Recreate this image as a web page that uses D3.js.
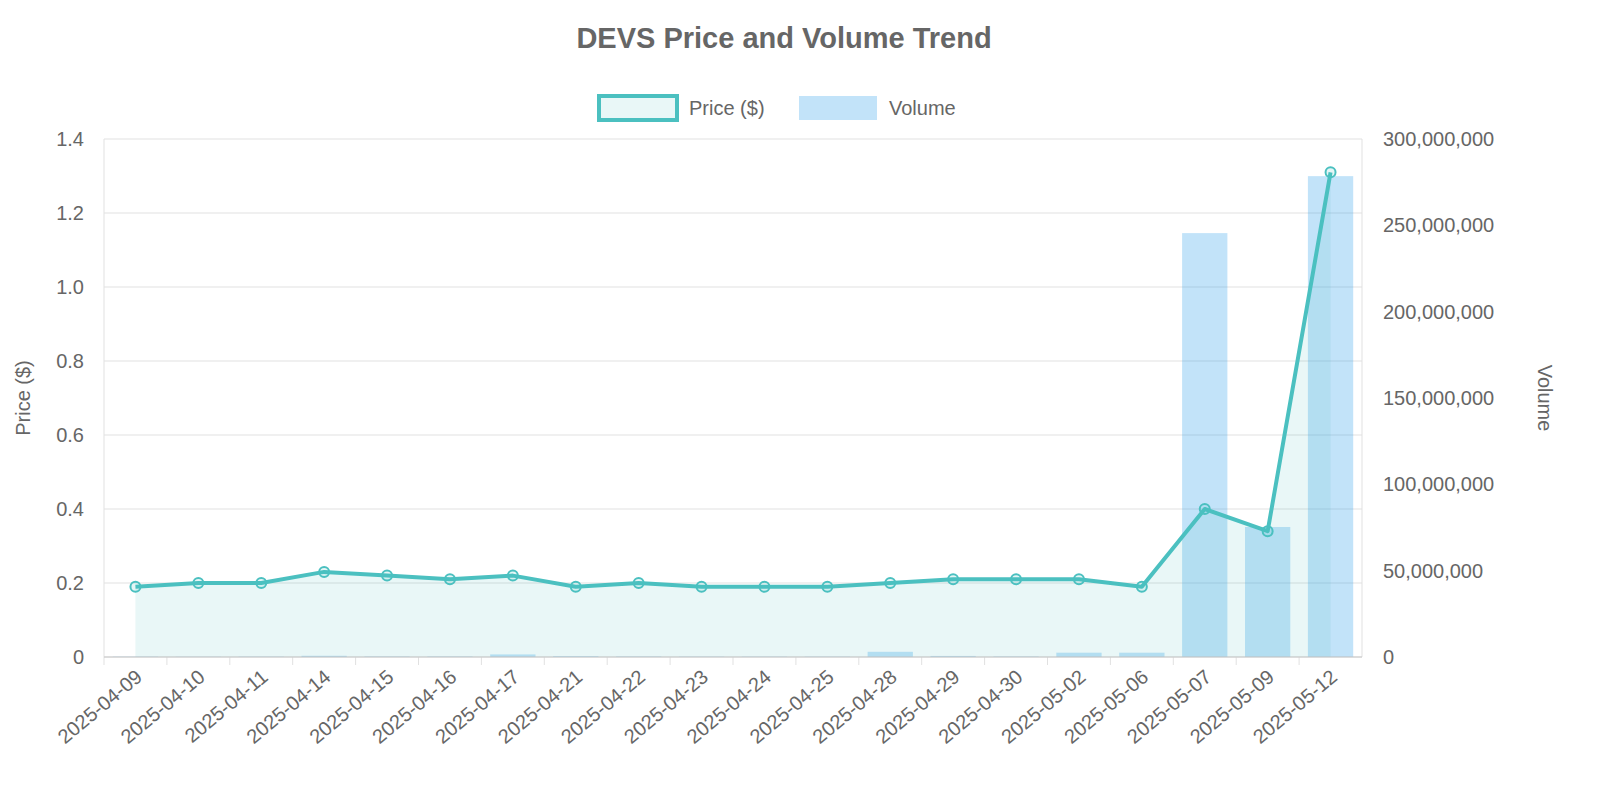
<!DOCTYPE html>
<html><head><meta charset="utf-8">
<script src="https://cdn.jsdelivr.net/npm/d3@7"></script>
<style>body{margin:0;background:#fff;font-family:"Liberation Sans",Arial,sans-serif}</style>
</head><body><svg id="c" width="1600" height="800"></svg>
<script>
const dates=["2025-04-09","2025-04-10","2025-04-11","2025-04-14","2025-04-15","2025-04-16","2025-04-17","2025-04-21","2025-04-22","2025-04-23","2025-04-24","2025-04-25","2025-04-28","2025-04-29","2025-04-30","2025-05-02","2025-05-06","2025-05-07","2025-05-09","2025-05-12"];
const prices=[0.19,0.20,0.20,0.23,0.22,0.21,0.22,0.19,0.20,0.19,0.19,0.19,0.20,0.21,0.21,0.21,0.19,0.40,0.34,1.31];
const volumes=[200000,150000,200000,700000,300000,300000,1500000,500000,300000,200000,200000,200000,3000000,600000,300000,2500000,2500000,245500000,75300000,278500000];
const priceTicks=[0,0.2,0.4,0.6,0.8,1.0,1.2,1.4];
const volTicks=[0,50000000,100000000,150000000,200000000,250000000,300000000];

const svg=d3.select("#c");
const L=104,R=1362,T=139,B=657;
const x=d3.scaleBand().domain(dates).range([L,R]).paddingInner(0.28).paddingOuter(0.14);
const xc=d=>x(d)+x.bandwidth()/2;
const y=d3.scaleLinear().domain([0,1.4]).range([B,T]);
const y2=d3.scaleLinear().domain([0,300000000]).range([B,T]);
const grey="#666";

// grid
svg.append("g").selectAll("line").data(priceTicks).join("line")
 .attr("x1",L).attr("x2",R).attr("y1",d=>y(d)).attr("y2",d=>y(d)).attr("stroke","#e1e1e1");
svg.append("line").attr("x1",L).attr("x2",L).attr("y1",T).attr("y2",B).attr("stroke","#e1e1e1");
svg.append("line").attr("x1",R).attr("x2",R).attr("y1",T).attr("y2",B).attr("stroke","#e1e1e1");
// ticks
svg.append("g").selectAll("line").data(dates).join("line")
 .attr("x1",d=>x(d)-x.step()*0.14).attr("x2",d=>x(d)-x.step()*0.14).attr("y1",B).attr("y2",B+8).attr("stroke","#e1e1e1");

// bars
svg.append("g").selectAll("rect").data(dates).join("rect")
 .attr("x",d=>x(d)).attr("width",x.bandwidth())
 .attr("y",(d,i)=>y2(volumes[i])).attr("height",(d,i)=>B-y2(volumes[i]))
 .attr("fill","rgba(54,162,235,0.3)");

// area + line
const pts=dates.map((d,i)=>[xc(d),y(prices[i])]);
svg.append("path").attr("d",d3.area().x(p=>p[0]).y0(B).y1(p=>p[1])(pts)).attr("fill","rgba(75,192,192,0.12)");
svg.append("path").attr("d",d3.line()(pts)).attr("fill","none").attr("stroke","#4bc0c0").attr("stroke-width",4).attr("stroke-linejoin","round");
svg.append("g").selectAll("circle").data(pts).join("circle")
 .attr("cx",p=>p[0]).attr("cy",p=>p[1]).attr("r",5).attr("fill","rgba(75,192,192,0.15)").attr("stroke","#4bc0c0").attr("stroke-width",2);

svg.append("line").attr("x1",L).attr("x2",R).attr("y1",B).attr("y2",B).attr("stroke","#c8c8c8");

// axis labels
svg.append("g").selectAll("text").data(priceTicks).join("text")
 .attr("x",L-20).attr("y",d=>y(d)+7).attr("text-anchor","end").attr("font-size",20).attr("fill",grey)
 .text(d=>d===0?"0":d.toFixed(1));
svg.append("g").selectAll("text").data(volTicks).join("text")
 .attr("x",R+21).attr("y",d=>y2(d)+7).attr("font-size",20).attr("fill",grey)
 .text(d=>d3.format(",")(d));
svg.append("g").selectAll("text").data(dates).join("text")
 .attr("transform",d=>`translate(${xc(d)+8},${B+22}) rotate(-40)`).attr("text-anchor","end").attr("font-size",20).attr("fill",grey).text(d=>d);

svg.append("text").attr("transform",`translate(30,${(T+B)/2}) rotate(-90)`).attr("text-anchor","middle").attr("font-size",20).attr("fill",grey).text("Price ($)");
svg.append("text").attr("transform",`translate(1538,${(T+B)/2}) rotate(90)`).attr("text-anchor","middle").attr("font-size",20).attr("fill",grey).text("Volume");

svg.append("text").attr("x",784).attr("y",48).attr("text-anchor","middle").attr("font-size",29).attr("font-weight","bold").attr("fill",grey).text("DEVS Price and Volume Trend");

// legend
svg.append("rect").attr("x",599).attr("y",96).attr("width",78).attr("height",24).attr("fill","rgba(75,192,192,0.12)").attr("stroke","#4bc0c0").attr("stroke-width",4);
svg.append("text").attr("x",689).attr("y",115).attr("font-size",20).attr("fill",grey).text("Price ($)");
svg.append("rect").attr("x",799).attr("y",96).attr("width",78).attr("height",24).attr("fill","rgba(54,162,235,0.3)");
svg.append("text").attr("x",889).attr("y",115).attr("font-size",20).attr("fill",grey).text("Volume");
</script></body></html>
